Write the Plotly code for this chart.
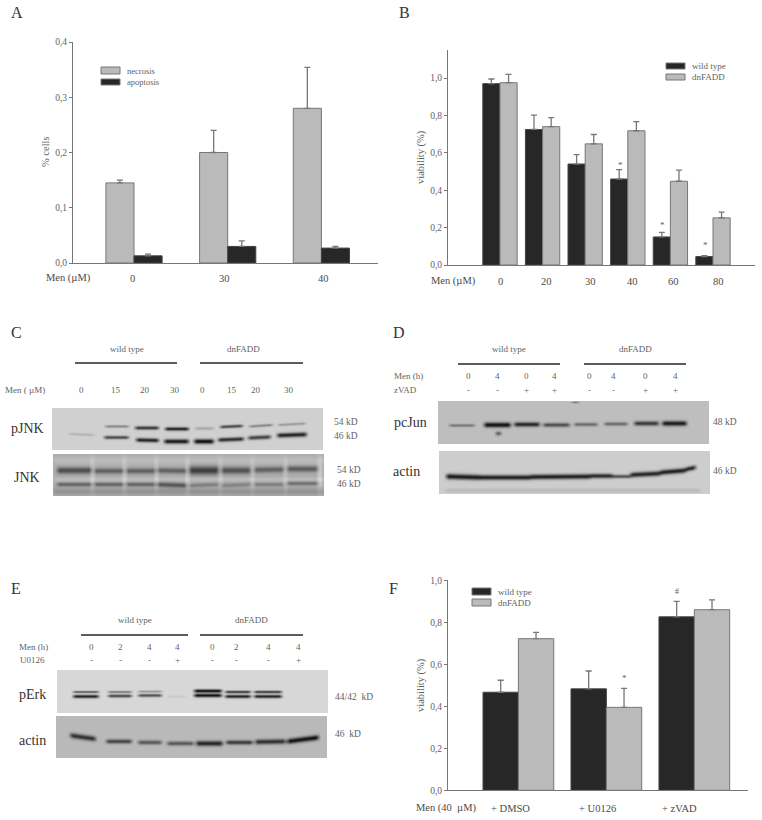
import numpy as np
import plotly.graph_objects as go

W, H = 762, 820
SERIF = "Liberation Serif"
DARK, GREY, EDGE = "#272727", "#bababa", "#777777"

# ---------- bar chart data ----------
a_necrosis = [0.145, 0.200, 0.280]
a_necrosis_err = [0.005, 0.040, 0.074]
a_apoptosis = [0.013, 0.030, 0.027]
a_apoptosis_err = [0.003, 0.010, 0.003]
a_labels = ["0", "30", "40"]

b_wild = [0.97, 0.725, 0.54, 0.46, 0.15, 0.045]
b_wild_err = [0.025, 0.077, 0.05, 0.05, 0.025, 0.005]
b_dn = [0.975, 0.74, 0.648, 0.718, 0.448, 0.252]
b_dn_err = [0.045, 0.048, 0.05, 0.049, 0.059, 0.031]
b_labels = ["0", "20", "30", "40", "60", "80"]

f_wild = [0.467, 0.483, 0.826]
f_wild_err = [0.057, 0.085, 0.074]
f_dn = [0.722, 0.395, 0.86]
f_dn_err = [0.03, 0.09, 0.047]
f_labels = ["+ DMSO", "+ U0126", "+ zVAD"]

# ---------- blot bands: left, right, y-left, y-right, darkness, thickness ----------
pjnk_bands = [
    (105,128,426,426,70,1.2),(135,158,427.5,427.5,150,1.6),(165,188,428.5,428.5,170,1.6),
    (195,213,428,428,40,1.4),(220,242,426.5,425.5,130,1.4),(249,272,426,424.5,70,1.2),(278,305,424.5,423,50,1.2),
    (69,93,433.5,434.5,30,1.1),(104,128,437,437,130,1.5),(136,158,439.5,440,170,1.8),(164,188,441,441,180,2.0),
    (194,213,441,441,190,2.1),(218,243,439.5,438.5,160,1.8),(248,270,437.5,436.5,140,1.8),(277,306,435,434,170,2.0),
]
jnk_bands = [
    (57,91,470,470,95,2.8),(94,123,470.5,470.5,75,2.4),(126,155,470.5,470.5,75,2.4),(157,186,470,470.5,75,2.4),
    (189,218,470,470,110,3.6),(221,250,470,470,90,3.0),(254,283,469.5,469,75,2.6),(287,317,468.5,468.5,80,2.6),
    (57,91,484,484,70,1.8),(94,123,484,484,70,1.8),(126,155,484,484,70,1.8),(157,186,484,485,85,2.2),
    (189,218,485,484,45,1.8),(221,250,485,484,40,1.8),(254,283,484,484,45,1.8),(287,317,483,483,60,1.8),
    (53,324,491,491,25,3.0),(53,324,479,479,-15,2.0),(53,324,460,460,-15,3.5),
    (91,93,475,475,-45,16),(123,125,475,475,-45,16),(155,157,475,475,-45,16),(186,188,475,475,-45,16),
    (219,221,475,475,-35,16),(251,253,475,475,-35,16),(284,286,475,475,-35,16),(318,321,475,475,-45,16),
]
pcjun_bands = [
    (449,474,425,425,70,1.3),(484,510,424.5,424.5,170,2.2),(514,539,424,424,150,2.0),(543,569,424.5,424.5,110,1.8),
    (574,597,424,424,80,1.6),(604,627,423.5,423.5,80,1.6),(634,658,423,423,130,2.0),(662,686,423,423,160,2.2),
    (496,500,433,433,120,1.8),(572,578,402,402,70,0.8),
]
actin_d_bands = [
    (446,480,476,477,175,2.4),(480,530,477,477,170,2.2),(530,590,476.5,476,170,2.2),(590,612,475.5,475.5,160,2.0),
    (612,630,476,476,120,1.6),(630,660,474.5,473,165,2.2),(660,685,472,470,170,2.2),(685,695,469,467,165,2.0),
    (445,700,490,490,18,1.8),
]
perk_bands = [
    (73,98,691.5,691.5,120,1.0),(73,98,696,696,175,1.5),(108,131,691.5,691.5,90,1.0),(108,131,695.5,695.5,140,1.4),
    (138,161,691,691,60,1.0),(138,161,695,695,130,1.4),(168,185,696,696,15,1.0),
    (194,221,690.5,690.5,195,1.5),(194,221,695,695,195,1.6),(225,250,691.5,691.5,150,1.2),(225,250,696,696,175,1.5),
    (254,281,691.5,691.5,150,1.2),(254,281,696,696,175,1.5),
]
actin_e_bands = [
    (70,95,735,738.5,135,2.3),(106,131,741,741,115,1.9),(138,161,742,742,95,1.9),(167,193,743,743,95,1.9),
    (196,222,743,743,145,2.3),(226,252,742,742,125,1.9),(255,285,741.5,741,135,2.2),(287,318,741,737,165,2.3),
]

fig = go.Figure()
annotations, shapes = [], []
axis_count = 0


def T(text, x, y, size=9.5, color="#5f5f5f", angle=0, anchor="center"):
    annotations.append(dict(text=text, x=x / W, y=1 - y / H, xref="paper", yref="paper", showarrow=False,
                            font=dict(family=SERIF, size=size, color=color), textangle=angle,
                            xanchor=anchor, yanchor="middle"))


def new_axes(left, right, top, bottom, xrange, yrange, **yopts):
    global axis_count
    axis_count += 1
    s = "" if axis_count == 1 else str(axis_count)
    fig.layout["xaxis" + s] = dict(domain=[left / W, right / W], range=xrange, anchor="y" + s, automargin=False,
                                   showgrid=False, zeroline=False, showticklabels=False, ticks="",
                                   showline=bool(yopts), linecolor=EDGE, linewidth=1)
    base = dict(domain=[1 - bottom / H, 1 - top / H], range=yrange, anchor="x" + s, showgrid=False, automargin=False,
                zeroline=False, showticklabels=False, ticks="")
    if yopts:
        base.update(showline=True, linecolor=EDGE, linewidth=1, showticklabels=True, ticks="outside", ticklen=3,
                    tickcolor=EDGE, tickformat=".1f", tickfont=dict(family=SERIF, size=9.5, color="#5f5f5f"))
        base.update(yopts)
    fig.layout["yaxis" + s] = base
    return "x" + s, "y" + s


def bars(xa, ya, values, errors, colour, width, offset):
    fig.add_trace(go.Bar(x=list(range(len(values))), y=values, xaxis=xa, yaxis=ya, width=width, offset=offset,
                         marker=dict(color=colour, line=dict(color=EDGE if colour == GREY else "#444444", width=1)),
                         error_y=dict(type="data", array=errors, symmetric=False, color=EDGE, thickness=1.3, width=3),
                         showlegend=False, hoverinfo="skip"))


def blot(left, right, top, bottom, background, bands):
    xs = np.arange(left, right + 1.0)
    ys = np.arange(top, bottom + 1.0)
    gx, gy = np.meshgrid(xs, ys)
    z = np.full(gx.shape, float(background))
    for x0, x1, y0, y1, dark, sigma in bands:
        span = max(x1 - x0, 1)
        centre = y0 + (y1 - y0) * np.clip((gx - x0) / span, 0, 1)
        across = np.exp(-((gy - centre) / (sigma * 1.15)) ** 2)
        along = np.clip((gx - x0 + 2.5) / 5, 0, 1) * np.clip((x1 - gx + 2.5) / 5, 0, 1)
        z -= dark * across * along
    xa, ya = new_axes(left, right, top, bottom, [left, right], [bottom, top])
    fig.add_trace(go.Heatmap(x=xs, y=ys, z=z, xaxis=xa, yaxis=ya, zmin=0, zmax=255, zsmooth="best",
                             colorscale=[[0, "black"], [1, "white"]], showscale=False, hoverinfo="skip"))


def swatch(x0, y0, x1, y1, colour):
    shapes.append(dict(type="rect", xref="paper", yref="paper", x0=x0 / W, x1=x1 / W, y0=1 - y0 / H, y1=1 - y1 / H,
                       fillcolor=colour, line=dict(color=EDGE, width=1)))


def rule(x0, x1, y):
    shapes.append(dict(type="line", xref="paper", yref="paper", x0=x0 / W, x1=x1 / W, y0=1 - y / H, y1=1 - y / H,
                       line=dict(color="#262626", width=1.6)))


# ---------- Panel A ----------
xa, ya = new_axes(73, 378, 42, 263, [-0.651, 2.604], [0, 0.4], tickvals=[0, 0.1, 0.2, 0.3, 0.4])
bars(xa, ya, a_necrosis, a_necrosis_err, GREY, 0.3, -0.3)
bars(xa, ya, a_apoptosis, a_apoptosis_err, DARK, 0.3, 0)
T("A", 17, 12, 16, "#333333")
T("% cells", 46, 152, 10.5, angle=-90)
T("Men (µM)", 68, 278, 10.5, "#4a4a4a")
for label, x in zip(a_labels, [132, 224, 323]):
    T(label, x, 278, 10.5, "#4a4a4a")
swatch(101, 67, 120, 74, GREY)
swatch(101, 79, 120, 85, DARK)
T("necrosis", 125, 71, 8.5, anchor="left")
T("apoptosis", 125, 82, 8.5, anchor="left")

# ---------- Panel B ----------
xa, ya = new_axes(448, 755, 50, 265, [-1.22, 5.986], [0, 1.15], tickvals=[0, 0.2, 0.4, 0.6, 0.8, 1.0])
bars(xa, ya, b_wild, b_wild_err, DARK, 0.403, -0.403)
bars(xa, ya, b_dn, b_dn_err, GREY, 0.403, 0)
T("B", 404, 12, 16, "#333333")
T("viability (%)", 421, 157, 10.5, angle=-90)
T("Men (µM)", 453, 281, 10.5, "#4a4a4a")
for label, x in zip(b_labels, [500, 546, 590, 632, 673, 718]):
    T(label, x, 281, 10.5, "#4a4a4a")
swatch(666, 63, 685, 69, DARK)
swatch(666, 74, 685, 80, GREY)
T("wild type", 690, 66, 9, anchor="left")
T("dnFADD", 690, 77, 9, anchor="left")
for x, y in [(620, 165), (662, 225), (705, 245)]:
    T("*", x, y, 9)

# ---------- Panel F ----------
xa, ya = new_axes(448, 748, 580.3, 790.3, [-0.8, 2.61], [0, 1.0], tickvals=[0, 0.2, 0.4, 0.6, 0.8, 1.0])
bars(xa, ya, f_wild, f_wild_err, DARK, 0.402, -0.402)
bars(xa, ya, f_dn, f_dn_err, GREY, 0.402, 0)
T("F", 393, 588, 16, "#333333")
T("viability (%)", 421, 685, 10.5, angle=-90)
T("Men (40  µM)", 446, 808, 10.5, "#4a4a4a")
for label, x in zip(f_labels, [510, 597, 679]):
    T(label, x, 808, 10.5, "#4a4a4a")
swatch(472, 588, 491, 595, DARK)
swatch(472, 599, 491, 606, GREY)
T("wild type", 496, 592, 9, anchor="left")
T("dnFADD", 496, 603, 9, anchor="left")
T("*", 624.7, 678, 9)
T("#", 676.7, 591, 8)

# ---------- Panel C ----------
blot(52, 323, 408, 450, 208, pjnk_bands)
blot(53, 324, 454, 496, 172, jnk_bands)
T("C", 16, 332, 16, "#333333")
T("wild type", 127, 349, 9)
T("dnFADD", 243, 349, 9)
rule(75, 177, 363)
rule(200, 303, 363)
T("Men ( µM)", 25, 390, 9)
for label, x in zip(["0", "15", "20", "30", "0", "15", "20", "30"], [81, 116, 145, 175, 202, 232, 256, 289]):
    T(label, x, 390, 9)
T("pJNK", 27, 428, 14, "#333333")
T("JNK", 27, 478, 14, "#333333")
for label, x, y in [("54 kD", 346, 422), ("46 kD", 346, 436), ("54 kD", 349, 470), ("46 kD", 349, 484)]:
    T(label, x, y, 9.5)

# ---------- Panel D ----------
blot(438, 709, 401, 444, 190, pcjun_bands)
blot(439, 710, 451, 494, 205, actin_d_bands)
T("D", 399, 332, 16, "#333333")
T("wild type", 509, 349, 9)
T("dnFADD", 635, 349, 9)
rule(458, 560, 364)
rule(584, 686, 364)
T("Men (h)", 408, 376, 9)
T("zVAD", 405, 390, 9)
d_x = [468, 497.5, 526, 554, 589, 613, 645, 675]
for label, x in zip(["0", "4", "0", "4", "0", "4", "0", "4"], d_x):
    T(label, x, 376, 9)
for label, x in zip(["-", "-", "+", "+", "-", "-", "+", "+"], d_x):
    T(label, x, 390, 9)
T("pcJun", 410, 422, 14, "#333333")
T("actin", 406, 472, 14, "#333333")
T("48 kD", 725, 422, 9.5)
T("46 kD", 725, 471, 9.5)

# ---------- Panel E ----------
blot(57, 328, 670, 713, 215, perk_bands)
blot(56, 327, 716, 758, 185, actin_e_bands)
T("E", 16, 588, 16, "#333333")
T("wild type", 135, 620, 9)
T("dnFADD", 251, 620, 9)
rule(81, 188, 635)
rule(200, 303, 635)
T("Men (h)", 33, 647, 9)
T("U0126", 32, 660, 9)
e_x = [91, 120, 149, 177, 212, 236, 268, 298]
for label, x in zip(["0", "2", "4", "4", "0", "2", "4", "4"], e_x):
    T(label, x, 647, 9)
for label, x in zip(["-", "-", "-", "+", "-", "-", "-", "+"], e_x):
    T(label, x, 660, 9)
T("pErk", 32, 694, 14, "#333333")
T("actin", 32, 740, 14, "#333333")
T("44/42  kD", 354, 697, 9.5)
T("46  kD", 348, 734, 9.5)

fig.update_layout(width=W, height=H, margin=dict(l=0, r=0, t=0, b=0), separators=", ", barmode="overlay",
                  paper_bgcolor="white", plot_bgcolor="white", showlegend=False,
                  annotations=annotations, shapes=shapes, font=dict(family=SERIF))
fig.write_html("out.html", config=dict(displayModeBar=False),
               post_script="document.body.style.margin='0';document.documentElement.style.overflow='hidden';")
